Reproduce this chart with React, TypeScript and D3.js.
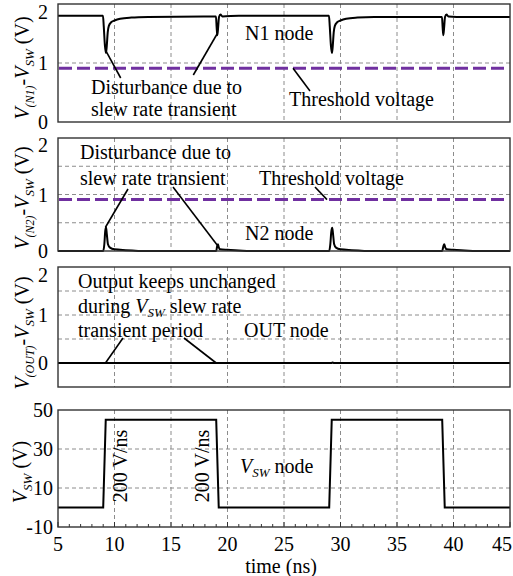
import React from "react"
import * as d3 from "d3"

// time axis (ns)
const timeDomain = [5, 45]
const timeTicks = [5, 10, 15, 20, 25, 30, 35, 40, 45]
const timeGrid = [10, 15, 20, 25, 30, 35, 40]

const voltTicks = [0, 1, 2]
const vswTicks = [-10, 10, 30, 50]
const thresholdV = 0.91

// V(N1)-VSW
const n1Data: [number, number][] = [
  [5, 1.8], [8.98, 1.8], [9.05, 1.62], [9.15, 1.3], [9.25, 1.17], [9.32, 1.3], [9.4, 1.52],
  [9.5, 1.63], [9.7, 1.69], [10, 1.72], [10.5, 1.75], [11.5, 1.77], [13, 1.78], [18.98, 1.79],
  [19.04, 1.6], [19.1, 1.47], [19.17, 1.6], [19.25, 1.78], [19.38, 1.82], [19.55, 1.79], [21, 1.8],
  [28.98, 1.8], [29.05, 1.62], [29.15, 1.3], [29.25, 1.17], [29.32, 1.3], [29.4, 1.52], [29.5, 1.63],
  [29.7, 1.69], [30, 1.72], [30.5, 1.75], [31.5, 1.77], [33, 1.78], [38.98, 1.78], [39.04, 1.6],
  [39.1, 1.47], [39.17, 1.6], [39.25, 1.78], [39.38, 1.82], [39.55, 1.79], [41, 1.78], [45, 1.78]
]

// V(N2)-VSW
const n2Data: [number, number][] = [
  [5, 0], [9, 0], [9.1, 0.12], [9.18, 0.35], [9.25, 0.42], [9.32, 0.3], [9.42, 0.12], [9.6, 0.06],
  [10, 0.03], [11, 0.015], [13, 0], [19, 0], [19.08, 0.08], [19.15, 0.12], [19.22, 0.07], [19.35, 0.03],
  [20, 0.02], [21, 0.01], [22, 0], [29, 0], [29.1, 0.12], [29.18, 0.33], [29.27, 0.41], [29.34, 0.3],
  [29.44, 0.12], [29.6, 0.06], [30, 0.03], [31, 0.015], [33, 0], [39, 0], [39.1, 0.08], [39.18, 0.12],
  [39.26, 0.07], [39.4, 0.03], [40, 0.02], [41, 0.01], [42, 0], [45, 0]
]

// V(OUT)-VSW
const outData: [number, number][] = [
  [5, 0], [29.2, 0], [29.3, 0.01], [29.4, 0], [45, 0]
]

// VSW
const vswData: [number, number][] = [
  [5, 0], [9, 0], [9.225, 45], [19, 45], [19.225, 0], [29, 0], [29.225, 45], [39, 45], [39.225, 0], [45, 0]
]

const FONT = "Liberation Serif"
const FS = 20
const PURPLE = "#7030a0"

const x = d3.scaleLinear().domain(timeDomain).range([58, 510])

function Grid({ y, hGrid }: { y: d3.ScaleLinear<number, number>, hGrid: number[] }) {
  const [b, t] = y.range()
  return (
    <g stroke="#8c8c8c" strokeWidth={1} strokeDasharray="4,3">
      {timeGrid.map(v => (
        <line key={"v" + v} x1={x(v)} x2={x(v)} y1={t} y2={b} />
      ))}
      {hGrid.map(v => (
        <line key={"h" + v} x1={x.range()[0]} x2={x.range()[1]} y1={y(v)} y2={y(v)} />
      ))}
    </g>
  )
}

function Frame({ y }: { y: d3.ScaleLinear<number, number> }) {
  const [b, t] = y.range()
  return (
    <rect x={x.range()[0]} y={t} width={x.range()[1] - x.range()[0]} height={b - t}
      fill="none" stroke="#333" strokeWidth={1.4} />
  )
}

function YTicks({ y, ticks, right, topShift }: { y: d3.ScaleLinear<number, number>, ticks: number[], right: number, topShift: number }) {
  const top = d3.max(ticks) as number
  return (
    <g fontFamily={FONT} fontSize={FS} textAnchor="end">
      {ticks.map(v => (
        <text key={v} x={right} y={y(v) + (v === top ? topShift : 0)} dy="0.35em">{v}</text>
      ))}
    </g>
  )
}

function Trace({ y, data, curve }: { y: d3.ScaleLinear<number, number>, data: [number, number][], curve: d3.CurveFactory }) {
  const gen = d3.line<[number, number]>().x(d => x(d[0])).y(d => y(d[1])).curve(curve)
  return <path d={gen(data) || ""} fill="none" stroke="#000" strokeWidth={2} />
}

function Threshold({ y }: { y: d3.ScaleLinear<number, number> }) {
  return (
    <line x1={x.range()[0] + 1} x2={x.range()[1] - 1} y1={y(thresholdV)} y2={y(thresholdV)}
      stroke={PURPLE} strokeWidth={3} strokeDasharray="13,5" />
  )
}

function YTitle({ cx, cy, sub }: { cx: number, cy: number, sub: string | null }) {
  return (
    <text transform={`translate(${cx},${cy}) rotate(-90)`} textAnchor="middle" fontFamily={FONT} fontSize={FS}>
      {sub && <tspan fontStyle="italic">V</tspan>}
      {sub && <tspan fontStyle="italic" fontSize={12} dy={5}>{sub}</tspan>}
      {sub && <tspan dy={-5}>-</tspan>}
      <tspan fontStyle="italic">V</tspan>
      <tspan fontStyle="italic" fontSize={13} dy={5}>SW</tspan>
      <tspan dy={-5}> (V)</tspan>
    </text>
  )
}

function Leader({ x1, y1, x2, y2 }: { x1: number, y1: number, x2: number, y2: number }) {
  return <line x1={x1} y1={y1} x2={x2} y2={y2} stroke="#000" strokeWidth={1.6} />
}

export default function App() {
  const y1 = d3.scaleLinear().domain([0, 2]).range([122, 4])
  const y2 = d3.scaleLinear().domain([0, 2]).range([251, 138])
  const y3 = d3.scaleLinear().domain([-0.5, 2]).range([387, 267])
  const y4 = d3.scaleLinear().domain([-10, 50]).range([527, 410])
  const linear = d3.curveLinear
  const smooth = d3.curveMonotoneX
  const minor = d3.range(timeDomain[0], timeDomain[1] + 1, 1)
  const lastT = timeTicks[timeTicks.length - 1]

  return (
    <svg width={513} height={576} style={{ position: "absolute", left: 0, top: 0, background: "#fff" }}>
      {/* panel 1 : N1 */}
      <Grid y={y1} hGrid={[1]} />
      <Threshold y={y1} />
      <Trace y={y1} data={n1Data} curve={smooth} />
      <Frame y={y1} />
      <YTicks y={y1} ticks={voltTicks} right={48} topShift={8} />
      <YTitle cx={29} cy={68} sub="(N1)" />
      <g fontFamily={FONT} fontSize={FS}>
        <text x={91} y={94}>Disturbance due to</text>
        <text x={91} y={116}>slew rate transient</text>
        <text x={245} y={40}>N1 node</text>
        <text x={289} y={106}>Threshold voltage</text>
      </g>
      <Leader x1={120.7} y1={78} x2={x(9.25)} y2={y1(1.2)} />
      <Leader x1={193.3} y1={75} x2={x(19.1)} y2={y1(1.5)} />
      <Leader x1={310} y1={91} x2={293} y2={y1(thresholdV)} />

      {/* panel 2 : N2 */}
      <Grid y={y2} hGrid={[0.5, 1, 1.5]} />
      <Threshold y={y2} />
      <Trace y={y2} data={n2Data} curve={smooth} />
      <Frame y={y2} />
      <YTicks y={y2} ticks={voltTicks} right={48} topShift={7} />
      <YTitle cx={29} cy={198} sub="(N2)" />
      <g fontFamily={FONT} fontSize={FS}>
        <text x={80} y={159}>Disturbance due to</text>
        <text x={80} y={185}>slew rate transient</text>
        <text x={259} y={185}>Threshold voltage</text>
        <text x={245} y={240}>N2 node</text>
      </g>
      <Leader x1={128} y1={189} x2={x(9.2)} y2={y2(0.42)} />
      <Leader x1={173} y1={187} x2={x(19.1)} y2={y2(0.1)} />
      <Leader x1={315} y1={187} x2={327} y2={y2(thresholdV)} />

      {/* panel 3 : OUT */}
      <Grid y={y3} hGrid={[0.5, 1, 1.5]} />
      <Trace y={y3} data={outData} curve={linear} />
      <Frame y={y3} />
      <YTicks y={y3} ticks={voltTicks} right={48} topShift={8} />
      <YTitle cx={29} cy={333} sub="(OUT)" />
      <g fontFamily={FONT} fontSize={FS}>
        <text x={78} y={288}>Output keeps unchanged</text>
        <text x={78} y={313}>during <tspan fontStyle="italic">V</tspan><tspan fontStyle="italic" fontSize={13} dy={4}>SW</tspan><tspan dy={-4}> slew rate</tspan></text>
        <text x={78} y={337}>transient period</text>
        <text x={244} y={337}>OUT node</text>
      </g>
      <Leader x1={123} y1={338} x2={x(9.2)} y2={y3(0)} />
      <Leader x1={184} y1={338} x2={x(19)} y2={y3(0)} />

      {/* panel 4 : VSW */}
      <Grid y={y4} hGrid={[10, 30]} />
      <Trace y={y4} data={vswData} curve={linear} />
      <g stroke="#333" strokeWidth={1}>
        {minor.map(t => (
          <line key={t} x1={x(t)} x2={x(t)} y1={y4(-10)} y2={y4(-10) - (t % 5 === 0 ? 5 : 3)} />
        ))}
      </g>
      <Frame y={y4} />
      <YTicks y={y4} ticks={vswTicks} right={53} topShift={0} />
      <YTitle cx={27} cy={472} sub={null} />
      <g fontFamily={FONT} fontSize={FS}>
        <text transform={`translate(127,466) rotate(-90)`} textAnchor="middle">200 V/ns</text>
        <text transform={`translate(209,466) rotate(-90)`} textAnchor="middle">200 V/ns</text>
        <text x={240} y={473}>
          <tspan fontStyle="italic">V</tspan>
          <tspan fontStyle="italic" fontSize={13} dy={4}>SW</tspan>
          <tspan dy={-4}> node</tspan>
        </text>
      </g>

      {/* time axis */}
      <g fontFamily={FONT} fontSize={FS} textAnchor="middle">
        {timeTicks.map(t => (
          <text key={t} x={t === lastT ? 512 : x(t)} y={551}
            textAnchor={t === lastT ? "end" : "middle"}>{t}</text>
        ))}
        <text x={281} y={573}>time (ns)</text>
      </g>
    </svg>
  )
}
